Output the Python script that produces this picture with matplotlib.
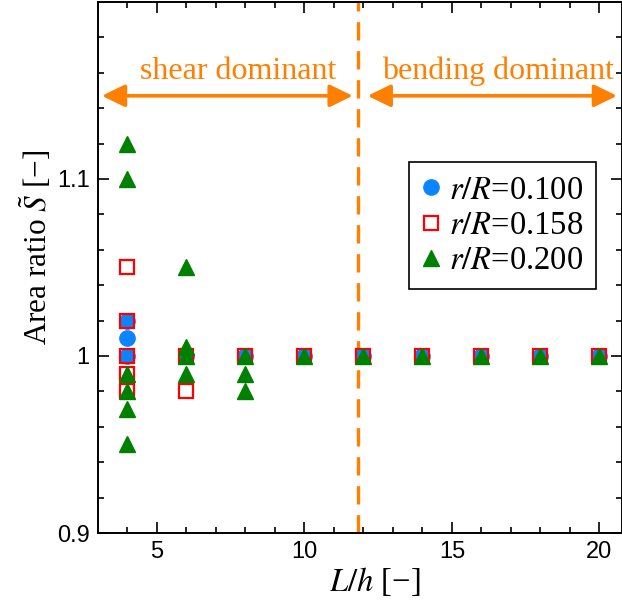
import matplotlib
matplotlib.use('Agg')
import matplotlib.pyplot as plt
from matplotlib.ticker import MultipleLocator, FixedLocator

# ---- data ----
x_r100 = [4, 4, 4, 6, 8, 10, 12, 14, 16, 18, 20]
y_r100 = [1.02, 1.01, 1.0, 1.0, 1.0, 1.0, 1.0, 1.0, 1.0, 1.0, 1.0]

x_r158 = [4, 4, 4, 4, 4, 6, 6, 8, 10, 12, 14, 16, 18, 20]
y_r158 = [1.05, 1.02, 1.0, 0.99, 0.98, 1.0, 0.98, 1.0, 1.0, 1.0, 1.0, 1.0, 1.0, 1.0]

x_r200 = [4, 4, 4, 4, 4, 4, 6, 6, 6, 6, 8, 8, 8, 10, 12, 14, 16, 18, 20]
y_r200 = [1.12, 1.10, 0.99, 0.98, 0.97, 0.95,
          1.05, 1.005, 1.0, 0.99,
          1.0, 0.99, 0.98,
          1.0, 1.0, 1.0, 1.0, 1.0, 1.0]

labels = ['$r/R$=0.100', '$r/R$=0.158', '$r/R$=0.200']
x_split = 11.8
region_labels = ['shear dominant', 'bending dominant']

# ---- style ----
plt.rcParams['font.family'] = ['Liberation Serif', 'DejaVu Serif']
plt.rcParams['mathtext.fontset'] = 'stix'

W, H = 622, 606
fig = plt.figure(figsize=(W / 100, H / 100), dpi=100)
L, R, B, T = 98, 621.5, 533, 2
ax = fig.add_axes([L / W, (H - B) / H, (R - L) / W, (B - T) / H])

orange = '#FF8000'
ax.plot(x_r100, y_r100, 'o', color='#0A84FF', markersize=11, linestyle='none',
        label=labels[0], zorder=3)
ax.plot(x_r158, y_r158, 's', markerfacecolor='none', markeredgecolor='#FF0000',
        markeredgewidth=1.6, markersize=10.5, linestyle='none', label=labels[1], zorder=4)
ax.plot(x_r200, y_r200, '^', color='#008000', markersize=11, linestyle='none',
        label=labels[2], zorder=5)

ax.axvline(x_split, color=orange, lw=2.4, dashes=(5.5, 3.2), zorder=2)

ax.set_xlim(3, 20.75)
ax.set_ylim(0.9, 1.2)

arrow_y = 1.147
astyle = '<|-|>,head_length=14,head_width=6.8'
ax.annotate('', xy=(3.13, arrow_y), xytext=(11.64, arrow_y),
            arrowprops=dict(arrowstyle=astyle, color=orange, lw=2.6,
                            shrinkA=0, shrinkB=0, mutation_scale=1))
ax.annotate('', xy=(12.14, arrow_y), xytext=(20.6, arrow_y),
            arrowprops=dict(arrowstyle=astyle, color=orange, lw=2.6,
                            shrinkA=0, shrinkB=0, mutation_scale=1))
ax.text(7.75, 1.161, region_labels[0], color=orange, fontsize=23,
        ha='center', va='center')
ax.text(16.55, 1.161, region_labels[1], color=orange, fontsize=23,
        ha='center', va='center')

# ticks
ax.xaxis.set_major_locator(FixedLocator([5, 10, 15, 20]))
ax.xaxis.set_minor_locator(MultipleLocator(1))
ax.yaxis.set_major_locator(FixedLocator([0.9, 1.0, 1.1]))
ax.yaxis.set_minor_locator(MultipleLocator(0.02))
ax.set_yticklabels(['0.9', '1', '1.1'])
ax.tick_params(which='both', direction='in', top=True, right=True, width=1.2)
ax.tick_params(which='major', length=8, labelsize=17, pad=6)
ax.tick_params(which='minor', length=4.5)
for lab in ax.get_xticklabels() + ax.get_yticklabels():
    lab.set_family('Liberation Sans')
for sp in ax.spines.values():
    sp.set_linewidth(1.4)

ax.set_xlabel('$L/h$ [\u2212]', fontsize=23.5, labelpad=1)
ax.set_ylabel('Area ratio $\\tilde{S}$ [\u2212]', fontsize=22.5, labelpad=2)
ax.xaxis.label.set_x((375 - L) / (R - L))
ax.yaxis.label.set_y((B - 247) / (B - T))

leg = ax.legend(loc='upper right', bbox_to_anchor=((596 - L) / (R - L), (B - 162) / (B - T)),
                fontsize=23.5, frameon=True, fancybox=False, framealpha=1,
                edgecolor='black', handlelength=0.55, handletextpad=0.25,
                borderpad=0.4, labelspacing=0.15, borderaxespad=0)
leg.get_frame().set_linewidth(1.2)

fig.savefig('out.png', dpi=100)
